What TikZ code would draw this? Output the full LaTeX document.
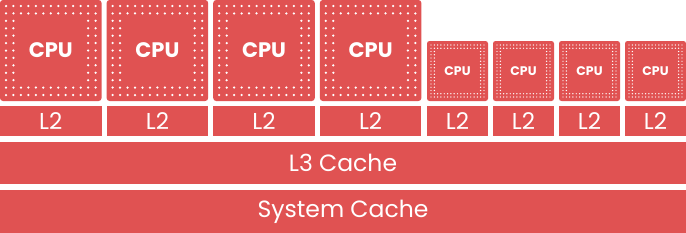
\documentclass[tikz,border=0pt]{standalone}
\usepackage{fontspec}
\setmainfont{Poppins}
\definecolor{chip}{RGB}{224,82,82}
\tikzset{
  blk/.style={fill=chip, draw=none, inner sep=0pt, outer sep=0pt, text=white, anchor=north west},
  bigcpu/.style={blk, minimum width=101.6pt, minimum height=101pt, rounded corners=3pt,
    font=\fontsize{21}{21}\selectfont\bfseries},
  smallcpu/.style={blk, minimum width=61pt, minimum height=60pt, rounded corners=2.5pt,
    font=\fontsize{12.5}{12.5}\selectfont\bfseries},
  ltwo/.style={blk, minimum height=30pt, font=\fontsize{23}{23}\selectfont},
  cachebar/.style={blk, minimum width=686pt, font=\fontsize{23.5}{23.5}\selectfont},
  pin/.style={fill=white}
}
\newcommand\bigpins[1]{%
  \begin{scope}[shift={(#1,0)}]
    \foreach \j in {0,1,11,12}{\foreach \i in {0,...,12}{\fill[pin] (6+\i*7.467,6+\j*7.417) circle (1.25);}}
    \foreach \i in {0,1,11,12}{\foreach \j in {2,...,10}{\fill[pin] (6+\i*7.467,6+\j*7.417) circle (1.25);}}
  \end{scope}}
\newcommand\smallpins[1]{%
  \begin{scope}[shift={(#1,41)}]
    \foreach \j in {0,1,15,16}{\foreach \i in {0,...,16}{\fill[pin] (4+\i*3.3125,4+\j*3.25) circle (0.72);}}
    \foreach \i in {0,1,15,16}{\foreach \j in {2,...,14}{\fill[pin] (4+\i*3.3125,4+\j*3.25) circle (0.72);}}
  \end{scope}}
\begin{document}
\begin{tikzpicture}[x=1pt,y=-1pt]
\useasboundingbox (0,0) rectangle (686,233);
% big CPUs
\node[bigcpu] (c1) at (0,0) {CPU};
\node[bigcpu] (c2) at (106.6,0) {CPU};
\node[bigcpu] (c3) at (213.2,0) {CPU};
\node[bigcpu] (c4) at (319.8,0) {CPU};
\bigpins{0}\bigpins{106.6}\bigpins{213.2}\bigpins{319.8}
% small CPUs
\node[smallcpu] (c5) at (427,41) {CPU};
\node[smallcpu] (c6) at (493,41) {CPU};
\node[smallcpu] (c7) at (559,41) {CPU};
\node[smallcpu] (c8) at (625,41) {CPU};
\smallpins{427}\smallpins{493}\smallpins{559}\smallpins{625}
% L2
\node[ltwo, minimum width=101.6pt] (l1) at (0,106) {L2};
\node[ltwo, minimum width=101.6pt] (l2) at (106.6,106) {L2};
\node[ltwo, minimum width=101.6pt] (l3) at (213.2,106) {L2};
\node[ltwo, minimum width=101.6pt] (l4) at (319.8,106) {L2};
\node[ltwo, minimum width=61pt] (l5) at (427,106) {L2};
\node[ltwo, minimum width=61pt] (l6) at (493,106) {L2};
\node[ltwo, minimum width=61pt] (l7) at (559,106) {L2};
\node[ltwo, minimum width=61pt] (l8) at (625,106) {L2};
% caches
\node[cachebar, minimum height=42pt] (l3c) at (0,142) {L3 Cache};
\node[cachebar, minimum height=43pt] (sys) at (0,190) {System Cache};
\end{tikzpicture}
\end{document}
